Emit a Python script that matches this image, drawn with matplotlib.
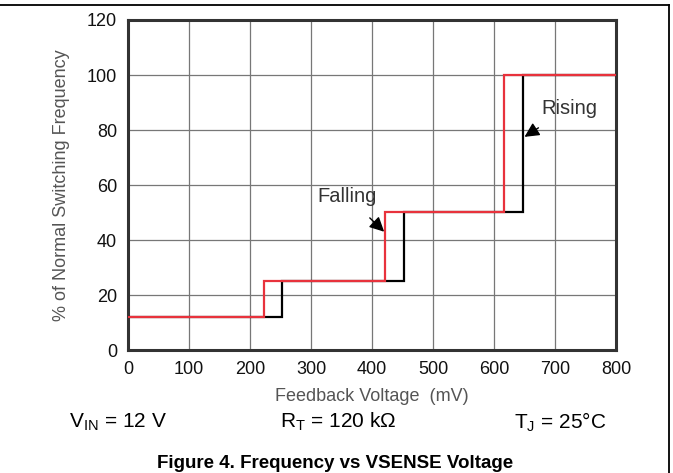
import numpy as np
import matplotlib
matplotlib.use("Agg")
import matplotlib.pyplot as plt
from matplotlib.lines import Line2D

plt.rcParams['font.family'] = ['Liberation Sans', 'DejaVu Sans']
plt.rcParams['mathtext.fontset'] = 'custom'
plt.rcParams['mathtext.rm'] = 'Liberation Sans'
plt.rcParams['mathtext.it'] = 'Liberation Sans:italic'

# Rising (black) and falling (red) step curves, feedback voltage in mV
rising_mv = [0, 253, 253, 452, 452, 647, 647, 800]
rising_pct = [12, 12, 25, 25, 50, 50, 100, 100]
falling_mv = [0, 223, 223, 421, 421, 617, 617, 800]
falling_pct = [12, 12, 25, 25, 50, 50, 100, 100]

x_ticks = [0, 100, 200, 300, 400, 500, 600, 700, 800]
y_ticks = [0, 20, 40, 60, 80, 100, 120]

W, H = 673, 473
fig = plt.figure(figsize=(W / 100, H / 100), dpi=100)
ax = fig.add_axes([128 / W, 1 - 350 / H, (616 - 128) / W, (350 - 20) / H])

ax.plot(rising_mv, rising_pct, color='black', lw=1.6, solid_joinstyle='miter', zorder=3)
ax.plot(falling_mv, falling_pct, color='#e8323c', lw=1.6, solid_joinstyle='miter', zorder=4)

ax.set_xlim(0, 800)
ax.set_ylim(0, 120)
ax.set_xticks(x_ticks)
ax.set_yticks(y_ticks)
ax.tick_params(length=0, labelsize=13, pad=8, colors='#111111')
ax.grid(True, color='#777777', lw=0.9)
ax.set_axisbelow(True)
for s in ax.spines.values():
    s.set_linewidth(2.2)
    s.set_color('#333333')

ax.set_xlabel('Feedback Voltage  (mV)', fontsize=13, color='#555555', labelpad=7)
ax.set_ylabel('% of Normal Switching Frequency', fontsize=13, color='#555555', labelpad=12)

# annotations
ax.annotate('Falling', xy=(420, 43), xytext=(359, 56), fontsize=14.5, color='#333333',
            ha='center', va='center',
            arrowprops=dict(arrowstyle='-|>', color='black', lw=1, mutation_scale=22,
                            shrinkA=10, shrinkB=0))
ax.annotate('Rising', xy=(650, 77.5), xytext=(723, 88), fontsize=14.5, color='#333333',
            ha='center', va='center',
            arrowprops=dict(arrowstyle='-|>', color='black', lw=1, mutation_scale=22,
                            shrinkA=10, shrinkB=0))

# test conditions
cy = 1 - 422 / H
fig.text(118 / W, cy, r'V$_{\mathrm{IN}}$ = 12 V', fontsize=15, ha='center', va='center')
fig.text(338 / W, cy, r'R$_{\mathrm{T}}$ = 120 k$\Omega$', fontsize=15, ha='center', va='center')
fig.text(560 / W, cy, r'T$_{\mathrm{J}}$ = 25°C', fontsize=15, ha='center', va='center')

fig.text(335 / W, 1 - 455 / H, 'Figure 4. Frequency vs VSENSE Voltage', fontsize=13.5,
         fontweight='bold', ha='center', va='top')

# page frame lines
fig.add_artist(Line2D([0, 669 / W], [1 - 5 / H, 1 - 5 / H], color='black', lw=1.3,
                      transform=fig.transFigure))
fig.add_artist(Line2D([669 / W, 669 / W], [1 - 5 / H, 0], color='black', lw=1.3,
                      transform=fig.transFigure))

fig.savefig('out.png', dpi=100)
